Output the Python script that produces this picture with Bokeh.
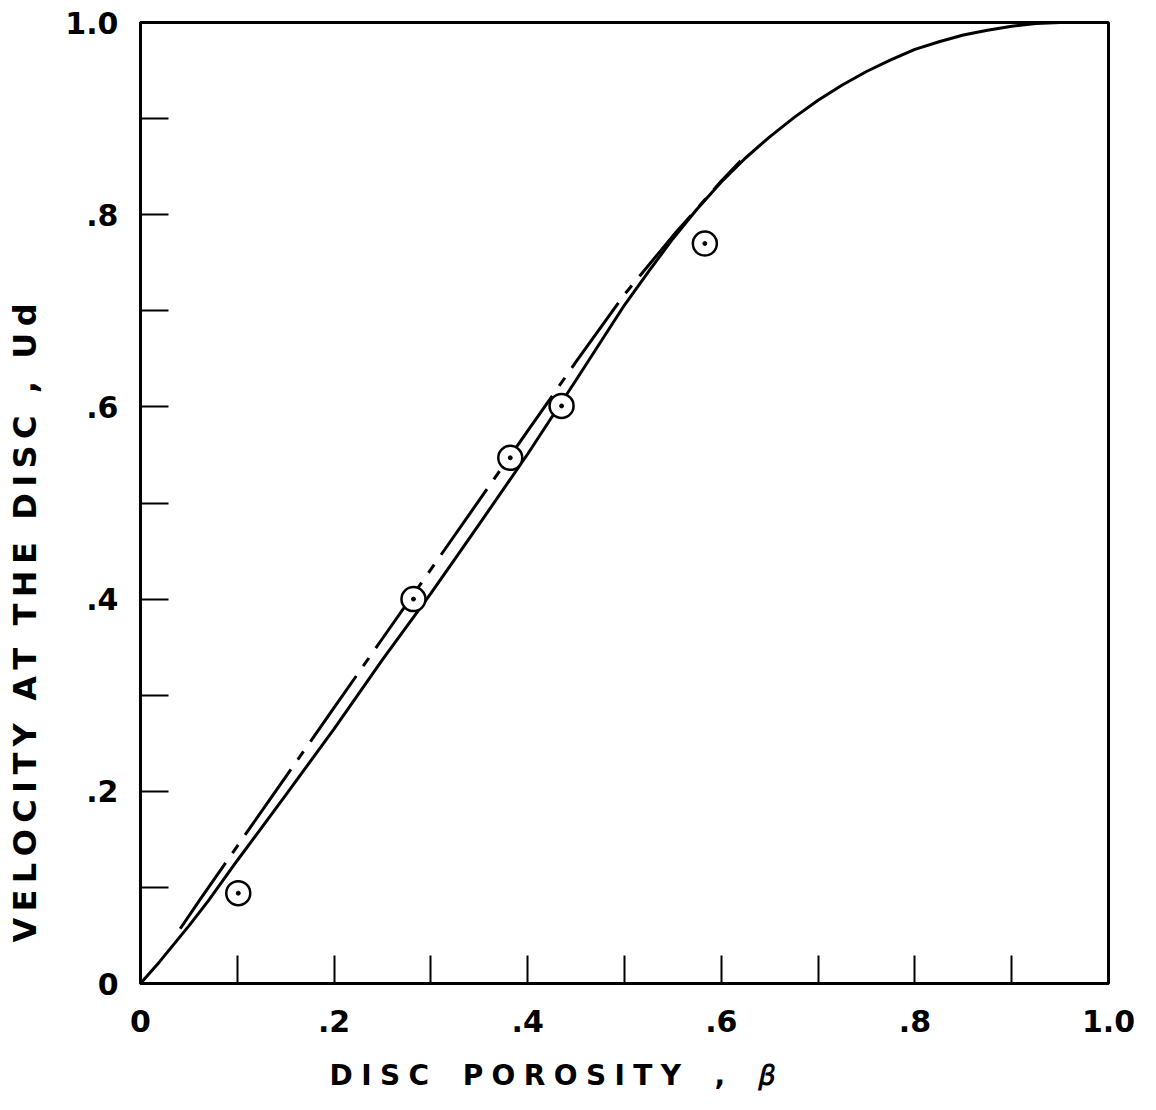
from bokeh.plotting import figure
from bokeh.models import FixedTicker, Range1d
from bokeh.embed import file_html
from bokeh.resources import INLINE

# ---- data ----
theory_x = [0, 0.02, 0.05, 0.07, 0.1, 0.15, 0.2, 0.25, 0.3, 0.35, 0.4, 0.45,
            0.475, 0.5, 0.525, 0.55, 0.575, 0.6, 0.625, 0.65, 0.675, 0.7,
            0.725, 0.75, 0.775, 0.8, 0.825, 0.85, 0.875, 0.9, 0.925, 0.95, 1.0]
theory_y = [0, 0.023, 0.060, 0.086, 0.128, 0.196, 0.265, 0.337, 0.406, 0.478,
            0.551, 0.628, 0.667, 0.706, 0.741, 0.775, 0.806, 0.834, 0.859,
            0.881, 0.901, 0.919, 0.935, 0.949, 0.961, 0.972, 0.980, 0.987,
            0.992, 0.996, 0.999, 1.0, 1.0]

dashdot_x = [0.041, 0.062, 0.1, 0.15, 0.2, 0.25, 0.3, 0.35, 0.4, 0.45, 0.5,
             0.55, 0.6, 0.62]
dashdot_y = [0.057, 0.088, 0.143, 0.215, 0.287, 0.359, 0.431, 0.503, 0.575,
             0.647, 0.717, 0.778, 0.835, 0.856]

exp_x = [0.101, 0.282, 0.382, 0.435, 0.583]
exp_y = [0.094, 0.400, 0.547, 0.601, 0.770]

major_ticks = [0, 0.2, 0.4, 0.6, 0.8, 1.0]
minor_ticks = [0.1, 0.3, 0.5, 0.7, 0.9]
tick_labels = ["0", ".2", ".4", ".6", ".8", "1.0"]

x_title_words = ["DISC", "POROSITY", ",", "\U0001D6FD"]
y_title_words = ["VELOCITY", "AT", "THE", "DISC", ",", "Ud"]

FONT = "DejaVu Sans"
HAIR = "\u200a"
THIN = "\u2009"
EN = "\u2002"
EM = "\u2003"


def title(words, letter_gap, word_gap, pad):
    return word_gap.join(letter_gap.join(list(w)) for w in words) + pad


p = figure(width=1148, height=1103, output_backend="svg", toolbar_location=None,
           x_range=Range1d(0, 1), y_range=Range1d(0, 1),
           min_border_left=140, min_border_right=40,
           min_border_top=22, min_border_bottom=120)
p.grid.visible = False
p.background_fill_color = "white"
p.border_fill_color = "white"
p.outline_line_color = "black"
p.outline_line_width = 3

overrides = {t: l for t, l in zip(major_ticks, tick_labels)}
for ax in (p.xaxis[0], p.yaxis[0]):
    ax.ticker = FixedTicker(ticks=major_ticks, minor_ticks=minor_ticks)
    ax.major_label_overrides = overrides
    ax.axis_line_width = 3
    ax.axis_line_color = "black"
    ax.major_tick_in = 28
    ax.major_tick_out = 0
    ax.minor_tick_in = 28
    ax.minor_tick_out = 0
    ax.major_tick_line_width = 2
    ax.minor_tick_line_width = 2
    ax.major_tick_line_color = "black"
    ax.minor_tick_line_color = "black"
    ax.major_label_text_font = FONT
    ax.major_label_text_font_style = "bold"
    ax.major_label_text_font_size = "30px"
    ax.major_label_text_color = "black"
    ax.axis_label_text_font = FONT
    ax.axis_label_text_font_style = "bold"
    ax.axis_label_text_color = "black"

p.yaxis.major_label_standoff = 22
p.xaxis.major_label_standoff = 26

p.xaxis.axis_label = title(x_title_words, THIN + HAIR, EM + THIN, EM * 5 + THIN)
p.xaxis.axis_label_text_font_size = "28px"
p.xaxis.axis_label_standoff = 24

p.yaxis.axis_label = title(y_title_words, THIN, EN + THIN, EM * 7 + EN)
p.yaxis.axis_label_text_font_size = "32px"
p.yaxis.axis_label_standoff = 18

# curves
p.line(dashdot_x, dashdot_y, line_color="black", line_width=3,
       line_dash="80 12 10 12")
p.line(theory_x, theory_y, line_color="black", line_width=3)

# experimental points
p.scatter(exp_x, exp_y, marker="circle", size=24, fill_color="white",
          line_color="black", line_width=2.5)
p.scatter(exp_x, exp_y, marker="circle", size=4, fill_color="black",
          line_color="black")

open("out.html", "w").write(file_html(p, INLINE))
